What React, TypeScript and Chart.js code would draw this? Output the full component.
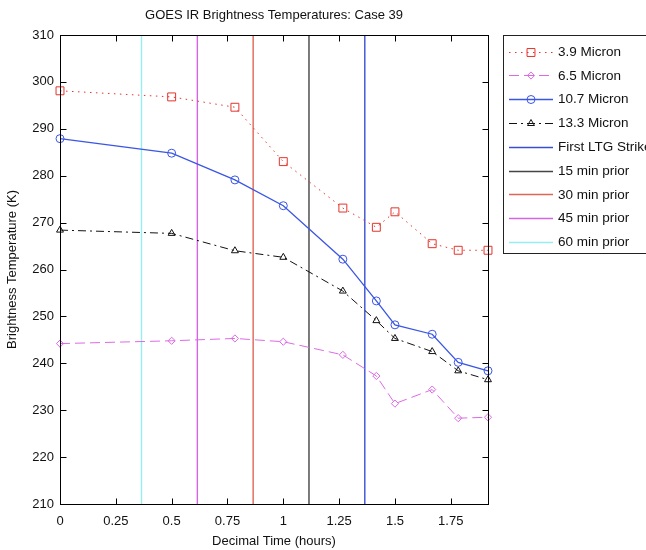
import React, { useEffect, useRef } from "react";
import { Chart, registerables } from "chart.js";

Chart.register(...registerables);

// ---- data ----
const times = [0, 0.5, 0.7833, 1.0, 1.2667, 1.4167, 1.5, 1.6667, 1.7833, 1.9167];
const micron39 = [298.1, 296.8, 294.6, 283.0, 273.1, 269.0, 272.3, 265.5, 264.1, 264.1];
const micron65 = [244.2, 244.8, 245.3, 244.6, 241.8, 237.3, 231.4, 234.4, 228.3, 228.5];
const micron107 = [287.9, 284.8, 279.1, 273.6, 262.2, 253.3, 248.2, 246.2, 240.2, 238.4];
const micron133 = [268.4, 267.7, 264.0, 262.6, 255.4, 249.1, 245.3, 242.5, 238.4, 236.5];

const seriesLabels = ["3.9 Micron", "6.5 Micron", "10.7 Micron", "13.3 Micron"];
const markerLabels = ["First LTG Strike", "15 min prior", "30 min prior", "45 min prior", "60 min prior"];
const markerTimes = [1.365, 1.115, 0.865, 0.615, 0.365];

const xTickValues = [0, 0.25, 0.5, 0.75, 1, 1.25, 1.5, 1.75];
const yTickValues = [210, 220, 230, 240, 250, 260, 270, 280, 290, 300, 310];
const xRange = [0, 1.9167];
const yRange = [210, 310];

const titleText = "GOES IR Brightness Temperatures: Case 39";
const xTitleText = "Decimal Time (hours)";
const yTitleText = "Brightness Temperature (K)";

// ---- styles ----
const FONT = '"Liberation Sans", Arial, sans-serif';
const seriesStyles = [
  { color: "#e3342c", dash: [1.5, 4.5], point: "rect", radius: 5.6, width: 1 },
  { color: "#dc6ae4", dash: [10, 5], point: "rectRot", radius: 3.6, width: 1 },
  { color: "#3a56e4", dash: [], point: "circle", radius: 4, width: 1.3 },
  { color: "#111111", dash: [8, 4, 2, 4], point: "triangle", radius: 4, width: 1 },
];
const markerColors = ["#3a4fd4", "#444444", "#de6656", "#d466e4", "#96eef0"];

function drawMarker(ctx: CanvasRenderingContext2D, style: string, x: number, y: number, r: number) {
  ctx.beginPath();
  if (style === "rect") {
    const s = Math.SQRT1_2 * r;
    ctx.rect(x - s, y - s, 2 * s, 2 * s);
  } else if (style === "rectRot") {
    ctx.moveTo(x - r, y);
    ctx.lineTo(x, y - r);
    ctx.lineTo(x + r, y);
    ctx.lineTo(x, y + r);
    ctx.closePath();
  } else if (style === "circle") {
    ctx.arc(x, y, r, 0, Math.PI * 2);
  } else if (style === "triangle") {
    ctx.moveTo(x, y - r);
    ctx.lineTo(x + r * 0.866, y + r * 0.5);
    ctx.lineTo(x - r * 0.866, y + r * 0.5);
    ctx.closePath();
  }
  ctx.stroke();
}

const decorPlugin = {
  id: "decor",
  afterDraw(chart: any) {
    const { ctx, chartArea: a, scales } = chart;
    const xs = scales.x;
    const ys = scales.y;
    ctx.save();
    // frame
    ctx.strokeStyle = "#000";
    ctx.lineWidth = 1;
    ctx.setLineDash([]);
    const L = Math.round(a.left) + 0.5;
    const R = Math.round(a.right) + 0.5;
    const T = Math.round(a.top) + 0.5;
    const B = Math.round(a.bottom) + 0.5;
    ctx.strokeRect(L, T, R - L, B - T);
    // inward ticks
    const tl = 6;
    ctx.beginPath();
    xTickValues.forEach((v) => {
      const px = Math.round(xs.getPixelForValue(v)) + 0.5;
      ctx.moveTo(px, B);
      ctx.lineTo(px, B - tl);
      ctx.moveTo(px, T);
      ctx.lineTo(px, T + tl);
    });
    yTickValues.forEach((v) => {
      const py = Math.round(ys.getPixelForValue(v)) + 0.5;
      ctx.moveTo(L, py);
      ctx.lineTo(L + tl, py);
      ctx.moveTo(R, py);
      ctx.lineTo(R - tl, py);
    });
    ctx.stroke();

    // titles
    ctx.fillStyle = "#111";
    ctx.textAlign = "center";
    ctx.textBaseline = "middle";
    ctx.font = "13px " + FONT;
    ctx.fillText(titleText, (a.left + a.right) / 2, 15);
    ctx.fillText(xTitleText, (a.left + a.right) / 2, 541);
    ctx.save();
    ctx.translate(12, (a.top + a.bottom) / 2);
    ctx.rotate(-Math.PI / 2);
    ctx.fillText(yTitleText, 0, 0);
    ctx.restore();

    // legend
    const lx = 503.5;
    const ly = 35.5;
    const rowH = 23.8;
    const rows = seriesLabels.length + markerLabels.length;
    ctx.fillStyle = "#fff";
    ctx.fillRect(lx, ly, 200, 218);
    ctx.strokeStyle = "#222";
    ctx.strokeRect(lx, ly, 200, 218);
    ctx.font = "13.5px " + FONT;
    ctx.textAlign = "left";
    for (let i = 0; i < rows; i++) {
      const cy = 51.5 + i * rowH;
      let color: string;
      let dash: number[] = [];
      let width = 1;
      let label: string;
      let point: string | null = null;
      let radius = 0;
      if (i < seriesLabels.length) {
        const st = seriesStyles[i];
        color = st.color;
        dash = st.dash;
        width = st.width;
        label = seriesLabels[i];
        point = st.point;
        radius = st.radius;
      } else {
        color = markerColors[i - seriesLabels.length];
        label = markerLabels[i - seriesLabels.length];
        width = 1.3;
      }
      ctx.strokeStyle = color;
      ctx.lineWidth = width;
      ctx.setLineDash(dash);
      ctx.beginPath();
      ctx.moveTo(509, Math.round(cy) + 0.5);
      ctx.lineTo(553, Math.round(cy) + 0.5);
      ctx.stroke();
      ctx.setLineDash([]);
      if (point) {
        ctx.lineWidth = 1;
        drawMarker(ctx, point, 531, Math.round(cy) + 0.5, radius);
      }
      ctx.fillStyle = "#111";
      ctx.fillText(label, 558, cy + 0.5);
    }
    ctx.restore();
  },
};

export default function App() {
  const canvasRef = useRef<HTMLCanvasElement | null>(null);

  useEffect(() => {
    const canvas = canvasRef.current;
    if (!canvas) return;

    const seriesValues = [micron39, micron65, micron107, micron133];
    const seriesDatasets = seriesValues.map((vals, i) => {
      const st = seriesStyles[i];
      return {
        label: seriesLabels[i],
        data: times.map((t, j) => ({ x: t, y: vals[j] })),
        borderColor: st.color,
        borderWidth: st.width,
        borderDash: st.dash,
        pointStyle: st.point,
        pointRadius: st.radius,
        pointBorderColor: st.color,
        pointBackgroundColor: "rgba(255,255,255,0)",
        pointBorderWidth: 1,
        tension: 0,
        fill: false,
        clip: false,
      };
    });
    const markerDatasets = markerTimes.map((t, i) => ({
      label: markerLabels[i],
      data: [
        { x: t, y: yRange[0] },
        { x: t, y: yRange[1] },
      ],
      borderColor: markerColors[i],
      borderWidth: 1.4,
      pointRadius: 0,
      fill: false,
      clip: false,
    }));

    const chart = new Chart(canvas, {
      type: "line",
      data: { datasets: [...seriesDatasets, ...markerDatasets] as any },
      options: {
        animation: false,
        responsive: false,
        devicePixelRatio: 1,
        layout: { padding: { top: 35, right: 646 - 488, left: 0, bottom: 0 } },
        plugins: {
          legend: { display: false },
          title: { display: false },
          tooltip: { enabled: false },
        },
        scales: {
          x: {
            type: "linear",
            min: xRange[0],
            max: xRange[1],
            grid: { display: false, drawTicks: false },
            border: { display: false },
            afterBuildTicks: (scale: any) => {
              scale.ticks = xTickValues.map((v) => ({ value: v }));
            },
            afterFit: (scale: any) => {
              scale.height = 46;
            },
            ticks: {
              padding: 10,
              color: "#111",
              font: { family: FONT, size: 13 },
              maxRotation: 0,
              autoSkip: false,
              callback: (v: any) => String(v),
            },
          },
          y: {
            type: "linear",
            min: yRange[0],
            max: yRange[1],
            grid: { display: false, drawTicks: false },
            border: { display: false },
            afterBuildTicks: (scale: any) => {
              scale.ticks = yTickValues.map((v) => ({ value: v }));
            },
            afterFit: (scale: any) => {
              scale.width = 60;
            },
            ticks: {
              padding: 6,
              color: "#111",
              font: { family: FONT, size: 13 },
              autoSkip: false,
              callback: (v: any) => String(v),
            },
          },
        },
      },
      plugins: [decorPlugin],
    });

    return () => chart.destroy();
  }, []);

  return (
    <div style={{ position: "absolute", left: 0, top: 0, width: 646, height: 550, background: "#fff" }}>
      <canvas ref={canvasRef} width={646} height={550} style={{ display: "block", width: 646, height: 550 }} />
    </div>
  );
}
